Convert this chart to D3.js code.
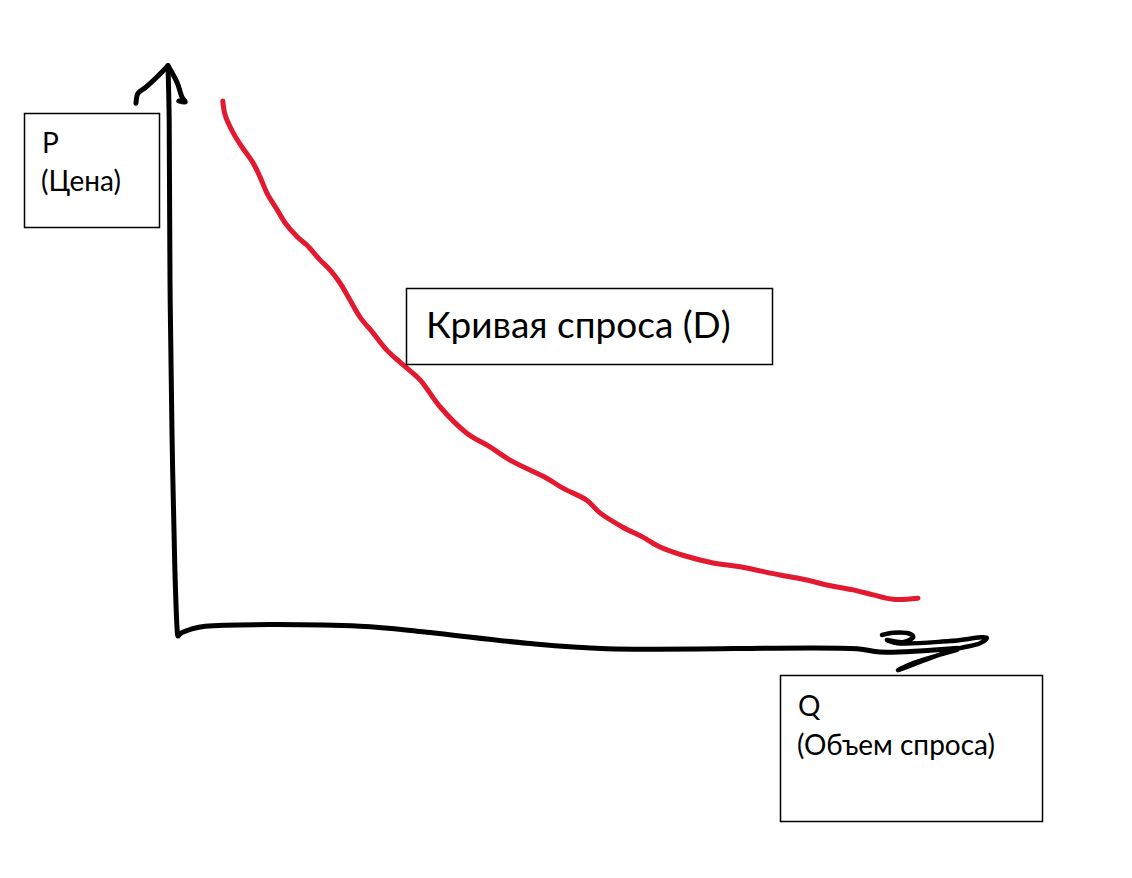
<!DOCTYPE html>
<html>
<head>
<meta charset="utf-8">
<script src="https://cdn.jsdelivr.net/npm/d3@7"></script>
<style>
  html, body { margin: 0; padding: 0; background: #fff; }
  svg { display: block; }
  text { font-family: Lato, "Noto Sans", "DejaVu Sans", sans-serif; fill: #000; }
</style>
</head>
<body>
<script>
// ---- data (Q = quantity, P = price, arbitrary units) ----
const demandQ = [5.6, 5.9, 6.9, 8.1, 9.4, 10.25, 11.1, 12.4, 13.4, 14.9, 16.1, 17.75, 19, 20.25, 21.5, 22.75, 24.4, 26.1, 27.75, 29.9, 30.6, 32.75, 36.1, 39, 41.5, 46.1, 48.1, 51.1, 52.75, 55.6, 58.1, 60.25, 63.1, 66.9, 70.25, 75.25, 78.6, 81.1, 84.4, 86.9, 89.4, 92.5];
const demandP = [97.1, 94.5, 91.3, 88.5, 85.8, 83.3, 80.4, 77.3, 74.9, 72.4, 70.9, 68.2, 66.4, 64, 60.9, 57.8, 54.9, 51.8, 49.6, 46.9, 45.8, 41.5, 36.7, 34.2, 31.8, 28.5, 26.7, 24.5, 22.2, 19.6, 17.8, 16, 14.5, 13.1, 12.4, 10.9, 10, 9.1, 8.2, 7.3, 6.5, 6.7];

// hand-drawn axes (P axis up, then Q axis to the right)
const axisQ = [-1.25, -1.1, -1.0, -0.75, -0.4, -0.1, 0, 0.25, 1.75, 3.4, 22.75, 31.1, 43.6, 53.6, 84.9, 87.75, 97.4];
const axisP = [103.5, 93.6, 64.5, 36.7, 12.4, 0.9, -0.2, 0.2, 1.1, 1.6, 1.6, 0.5, -1.5, -2.5, -2.5, -3.1, -2.4];

// arrowhead on the P axis
const pLeftBarbQ = [-1.25, -2.6, -4.1, -5, -5.25];
const pLeftBarbP = [103.5, 101.5, 99.5, 98.5, 96.7];
const pRightBarbQ = [-1.25, -0.1, 0.5, 0.9, 0.1];
const pRightBarbP = [103.5, 100.4, 97.8, 96.9, 97.1];

// arrowhead on the Q axis (scribbled)
const qHeadQ = [88, 89.4, 91.5, 91.9, 90.6, 88.6, 89.9, 96.5, 101.1, 100.25, 97.75, 94, 90, 91.9, 97.4];
const qHeadP = [0, 0.4, 0.2, -0.4, -1.3, -0.9, -1.5, -1.1, -0.5, -1.5, -2.4, -4.2, -6.4, -5.1, -2.7];

// text labels
const pLabel = ["P", "(Цена)"];
const qLabel = ["Q", "(Объем спроса)"];
const curveLabel = ["Кривая спроса (D)"];

// ---- drawing ----
const W = 1132, H = 878;
const svg = d3.select("body").append("svg").attr("width", W).attr("height", H);

const x = d3.scaleLinear().domain([0, 100]).range([178, 978]);
const y = d3.scaleLinear().domain([0, 100]).range([635, 85]);

const line = d3.line()
  .x(d => x(d[0]))
  .y(d => y(d[1]))
  .curve(d3.curveCatmullRom.alpha(0.5));

const zip = (a, b) => a.map((v, i) => [v, b[i]]);

const axisG = svg.append("g")
  .attr("fill", "none")
  .attr("stroke", "#000")
  .attr("stroke-width", 5)
  .attr("stroke-linecap", "round")
  .attr("stroke-linejoin", "round");

axisG.append("path").attr("d", line(zip(axisQ, axisP)));
axisG.append("path").attr("d", line(zip(pLeftBarbQ, pLeftBarbP)));
axisG.append("path").attr("d", line(zip(pRightBarbQ, pRightBarbP)));
axisG.append("path").attr("d", line(zip(qHeadQ, qHeadP))).attr("stroke-width", 4.5);

svg.append("path")
  .attr("d", line(zip(demandQ, demandP)))
  .attr("fill", "none")
  .attr("stroke", "#e3192f")
  .attr("stroke-width", 5)
  .attr("stroke-linecap", "round")
  .attr("stroke-linejoin", "round");

// label boxes
function box(x0, y0, w, h) {
  return svg.append("rect")
    .attr("x", x0).attr("y", y0).attr("width", w).attr("height", h)
    .attr("fill", "#fff").attr("stroke", "#000").attr("stroke-width", 1.5);
}

box(24.5, 113.5, 135, 114);
svg.append("text").attr("x", 42).attr("y", 153).attr("font-size", 28).text(pLabel[0]);
svg.append("text").attr("x", 41).attr("y", 191).attr("font-size", 28).text(pLabel[1]);

box(406.5, 288.5, 366, 76);
svg.append("text").attr("x", 426).attr("y", 338).attr("font-size", 37).text(curveLabel[0]);

box(780.5, 675.5, 262, 146);
svg.append("text").attr("x", 798).attr("y", 716).attr("font-size", 28).text(qLabel[0]);
svg.append("text").attr("x", 797).attr("y", 755).attr("font-size", 28).text(qLabel[1]);
</script>
</body>
</html>
